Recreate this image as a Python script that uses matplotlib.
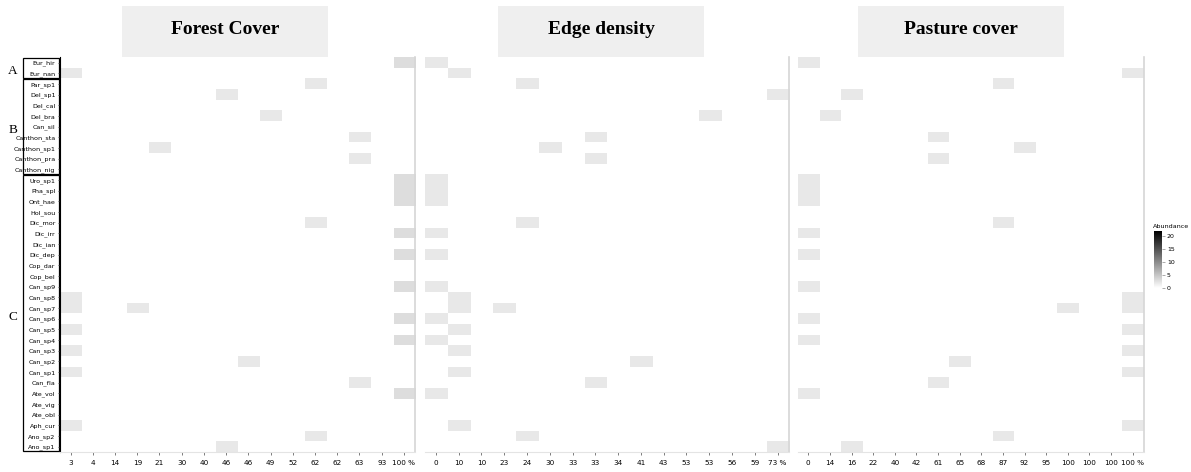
import matplotlib
matplotlib.use('Agg')
import matplotlib.pyplot as plt
import matplotlib.transforms as mtransforms
import numpy as np
from matplotlib.colors import LinearSegmentedColormap
from matplotlib.patches import Rectangle
from matplotlib import font_manager

# species (rows, top to bottom)
species = ['Eur_hir', 'Eur_nan', 'Par_sp1', 'Del_sp1', 'Del_cal', 'Del_bra', 'Can_sil',
           'Canthon_sta', 'Canthon_sp1', 'Canthon_pra', 'Canthon_nig', 'Uro_sp1', 'Pha_spl',
           'Ont_hae', 'Hol_sou', 'Dic_mor', 'Dic_irr', 'Dic_ian', 'Dic_dep', 'Cop_dar', 'Cop_bel',
           'Can_sp9', 'Can_sp8', 'Can_sp7', 'Can_sp6', 'Can_sp5', 'Can_sp4', 'Can_sp3', 'Can_sp2',
           'Can_sp1', 'Can_fla', 'Ate_vol', 'Ate_vig', 'Ate_obl', 'Aph_cur', 'Ano_sp2', 'Ano_sp1']

groups = [('A', 'Eur_hir', 'Eur_nan'), ('B', 'Par_sp1', 'Canthon_nig'), ('C', 'Uro_sp1', 'Ano_sp1')]

panel_titles = ['Forest Cover', 'Edge density', 'Pasture cover']

forest_sites = ['3', '4', '14', '19', '21', '30', '40', '46', '46', '49', '52', '62', '62', '63', '93', '100 %']
edge_sites = ['0', '10', '10', '23', '24', '30', '33', '33', '34', '41', '43', '53', '53', '56', '59', '73 %']
pasture_sites = ['0', '14', '16', '22', '40', '42', '61', '65', '68', '87', '92', '95', '100', '100', '100', '100 %']

# (species, site column, abundance)
forest_counts = [('Eur_hir', 15, 3), ('Eur_nan', 0, 2), ('Par_sp1', 11, 2), ('Del_sp1', 7, 2),
                 ('Del_bra', 9, 2), ('Canthon_sta', 13, 2), ('Canthon_sp1', 4, 2), ('Canthon_pra', 13, 2),
                 ('Uro_sp1', 15, 3), ('Pha_spl', 15, 3), ('Ont_hae', 15, 3), ('Dic_mor', 11, 2),
                 ('Dic_irr', 15, 3), ('Dic_dep', 15, 3), ('Can_sp9', 15, 3), ('Can_sp8', 0, 2),
                 ('Can_sp7', 0, 2), ('Can_sp7', 3, 2), ('Can_sp6', 15, 3), ('Can_sp5', 0, 2),
                 ('Can_sp4', 15, 3), ('Can_sp3', 0, 2), ('Can_sp2', 8, 2), ('Can_sp1', 0, 2),
                 ('Can_fla', 13, 2), ('Ate_vol', 15, 3), ('Aph_cur', 0, 2), ('Ano_sp2', 11, 2),
                 ('Ano_sp1', 7, 2)]

edge_counts = [('Eur_hir', 0, 2), ('Eur_nan', 1, 2), ('Par_sp1', 4, 2), ('Del_sp1', 15, 2),
               ('Del_bra', 12, 2), ('Canthon_sta', 7, 2), ('Canthon_sp1', 5, 2), ('Canthon_pra', 7, 2),
               ('Uro_sp1', 0, 2), ('Pha_spl', 0, 2), ('Ont_hae', 0, 2), ('Dic_mor', 4, 2),
               ('Dic_irr', 0, 2), ('Dic_dep', 0, 2), ('Can_sp9', 0, 2), ('Can_sp8', 1, 2),
               ('Can_sp7', 1, 2), ('Can_sp7', 3, 2), ('Can_sp6', 0, 2), ('Can_sp5', 1, 2),
               ('Can_sp4', 0, 2), ('Can_sp3', 1, 2), ('Can_sp2', 9, 2), ('Can_sp1', 1, 2),
               ('Can_fla', 7, 2), ('Ate_vol', 0, 2), ('Aph_cur', 1, 2), ('Ano_sp2', 4, 2),
               ('Ano_sp1', 15, 2)]

pasture_counts = [('Eur_hir', 0, 2), ('Eur_nan', 15, 2), ('Par_sp1', 9, 2), ('Del_sp1', 2, 2),
                  ('Del_bra', 1, 2), ('Canthon_sta', 6, 2), ('Canthon_sp1', 10, 2), ('Canthon_pra', 6, 2),
                  ('Uro_sp1', 0, 2), ('Pha_spl', 0, 2), ('Ont_hae', 0, 2), ('Dic_mor', 9, 2),
                  ('Dic_irr', 0, 2), ('Dic_dep', 0, 2), ('Can_sp9', 0, 2), ('Can_sp8', 15, 2),
                  ('Can_sp7', 15, 2), ('Can_sp7', 12, 2), ('Can_sp6', 0, 2), ('Can_sp5', 15, 2),
                  ('Can_sp4', 0, 2), ('Can_sp3', 15, 2), ('Can_sp2', 7, 2), ('Can_sp1', 15, 2),
                  ('Can_fla', 6, 2), ('Ate_vol', 0, 2), ('Aph_cur', 15, 2), ('Ano_sp2', 9, 2),
                  ('Ano_sp1', 2, 2)]

abundance_max = 22

W, H = 1191, 472

names = {f.name for f in font_manager.fontManager.ttflist}
narrow = 'Liberation Sans Narrow' if 'Liberation Sans Narrow' in names else 'DejaVu Sans'
serif = 'Liberation Serif'


def to_matrix(counts, ncol):
    m = np.zeros((len(species), ncol))
    for sp, c, v in counts:
        m[species.index(sp), c] = v
    return m


cmap = LinearSegmentedColormap.from_list('abund', ['white', 'black'])

fig = plt.figure(figsize=(W / 100, H / 100), dpi=100)

# panel positions in pixels (left, right)
panel_px = [(59.5, 415), (424.5, 789), (797.5, 1143.5)]
top_px, bottom_px = 57.3, 452
title_px = [(122, 328), (498, 704), (858, 1064)]

panels = [(forest_counts, forest_sites), (edge_counts, edge_sites), (pasture_counts, pasture_sites)]
axes = []
for i, (counts, sites) in enumerate(panels):
    l, r = panel_px[i]
    ax = fig.add_axes([l / W, 1 - bottom_px / H, (r - l) / W, (bottom_px - top_px) / H])
    mat = to_matrix(counts, len(sites))
    im = ax.imshow(mat, cmap=cmap, vmin=0, vmax=abundance_max, aspect='auto', interpolation='nearest')
    ax.set_xticks(range(len(sites)))
    ax.set_xticklabels(sites, fontsize=5.2, family=narrow)
    ax.set_yticks(range(len(species)))
    ax.tick_params(axis='x', length=2, width=0.6, color='#666666', pad=3.5)
    if i == 0:
        ax.set_yticklabels(species, fontsize=4.6, family=narrow)
        ax.tick_params(axis='y', length=1.8, width=0.5, color='#333333', pad=1)
        ax.spines['left'].set_color('black')
        ax.spines['left'].set_linewidth(0.8)
    else:
        ax.set_yticklabels([])
        ax.tick_params(axis='y', length=0)
        ax.spines['left'].set_visible(False)
    ax.spines['top'].set_visible(False)
    ax.spines['bottom'].set_color('#e4e4e4')
    ax.spines['right'].set_color('#d6d6d6')
    ax.spines['right'].set_linewidth(1.2)
    axes.append(ax)

    # title box
    tl, tr = title_px[i]
    fig.add_artist(Rectangle((tl / W, 1 - 57 / H), (tr - tl) / W, 51 / H, transform=fig.transFigure,
                             facecolor='#efefef', edgecolor='none'))
    fig.text((tl + tr) / 2 / W, 1 - 30 / H, panel_titles[i], ha='center', va='center',
             fontsize=14, fontweight='bold', family=serif)

# group boxes on the left
ax1 = axes[0]
trans = mtransforms.blended_transform_factory(fig.transFigure, ax1.transData)
for letter, first, last in groups:
    a = species.index(first)
    b = species.index(last)
    ax1.add_artist(Rectangle((23 / W, a - 0.42), 35.5 / W, b - a + 0.84, transform=trans,
                             facecolor='none', edgecolor='black', linewidth=0.9, clip_on=False))
    ax1.text(13 / W, (a + b) / 2 + 0.3, letter, transform=trans, ha='center', va='center',
             fontsize=9.5, family=serif)

# colorbar
cax = fig.add_axes([1154 / W, 1 - 288 / H, 8 / W, 57 / H])
cb = fig.colorbar(im, cax=cax)
cb.set_ticks([0, 5, 10, 15, 20])
cb.outline.set_visible(False)
cax.tick_params(labelsize=4.5, length=2, width=0.5, color='#888888', pad=1.5)
for t in cax.get_yticklabels():
    t.set_family(narrow)
fig.text(1171 / W, 1 - 226 / H, 'Abundance', ha='center', va='center', fontsize=4.6, family=narrow)

plt.savefig('out.png', dpi=100)
